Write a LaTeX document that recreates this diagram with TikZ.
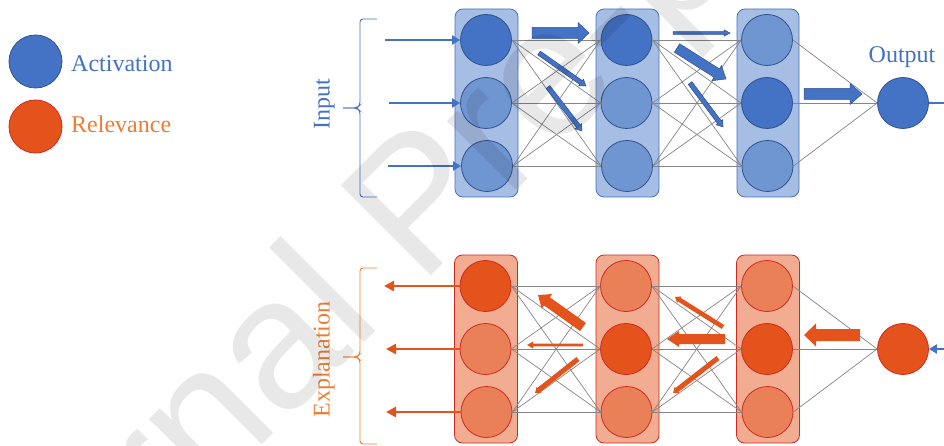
\documentclass[tikz,border=0pt]{standalone}
\usepackage{fontspec}
\setmainfont{Liberation Serif}
\newfontfamily\wmfont{Liberation Sans}
\usetikzlibrary{arrows.meta}

\definecolor{actblue}{HTML}{4472C4}
\definecolor{actlight}{HTML}{7096D2}
\definecolor{actedge}{HTML}{2F528F}
\definecolor{boxblue}{HTML}{A6BDE4}
\definecolor{relred}{HTML}{E4531B}
\definecolor{rellight}{HTML}{EA8058}
\definecolor{reledge}{HTML}{D02A20}
\definecolor{boxred}{HTML}{F2AC91}
\definecolor{reltext}{HTML}{ED7D31}
\definecolor{wire}{HTML}{858585}

% block arrow: style, start, angle, length, half shaft, half head, head length
\newcommand\flowarrow[7]{%
  \begin{scope}[shift={(#2)}, rotate=#3]
    \path[#1] (0,-#5) -- ({#4-#7},-#5) -- ({#4-#7},-#6) -- (#4,0)
      -- ({#4-#7},#6) -- ({#4-#7},#5) -- (0,#5) -- cycle;
  \end{scope}}

\begin{document}
\begin{tikzpicture}[x=1pt,y=-1pt,
  neuron/.style={circle, minimum size=51pt, inner sep=0pt, line width=0.8pt},
  blueon/.style={neuron, fill=actblue, draw=actedge},
  blueoff/.style={neuron, fill=actlight, draw=actedge},
  redon/.style={neuron, fill=relred, draw=reledge},
  redoff/.style={neuron, fill=rellight, draw=reledge},
  layerbox/.style={rectangle, rounded corners=8pt, line width=0.8pt,
    minimum height=188pt, inner sep=0pt},
  bluebox/.style={layerbox, fill=boxblue, draw=actblue},
  redbox/.style={layerbox, fill=boxred, draw=reledge},
  wire/.style={draw=wire, line width=0.7pt},
  feedin/.style={draw=actblue, line width=2pt, -{Triangle[length=8pt,width=9pt]}},
  feedout/.style={draw=relred, line width=2.5pt, -{Triangle[length=10pt,width=10pt]}},
  bracket/.style={line width=0.9pt, rounded corners=3pt},
  blueflow/.style={fill=actblue, draw=actedge, line width=0.5pt},
  redflow/.style={fill=relred},
  label/.style={inner sep=0pt, font=\fontsize{24}{28}\selectfont}
]
\useasboundingbox (0,0) rectangle (944,446);

% ---- legend ----
\node[blueon, minimum size=53pt] (legact) at (35.5,61.5) {};
\node[redon, minimum size=53pt] (legrel) at (35.5,126.5) {};
\node[label, anchor=base west, text=actblue] (legacttext) at (71,72) {Activation};
\node[label, anchor=base west, text=reltext] (legreltext) at (71,133) {Relevance};

% ---- forward pass (activations) ----
\node[bluebox, minimum width=63pt] (tbox1) at (486.5,103) {};
\node[bluebox, minimum width=63pt] (tbox2) at (627.5,103) {};
\node[bluebox, minimum width=62pt] (tbox3) at (768,103) {};

\node[blueon]  (t11) at (486,40) {};
\node[blueoff] (t12) at (486,103) {};
\node[blueoff] (t13) at (487,166) {};
\node[blueon]  (t21) at (626.5,40) {};
\node[blueoff] (t22) at (626.5,103) {};
\node[blueoff] (t23) at (627,166) {};
\node[blueoff] (t31) at (767,40) {};
\node[blueon]  (t32) at (767,103) {};
\node[blueoff] (t33) at (767.5,166) {};
\node[blueon]  (tout) at (903,103) {};

\foreach \i in {1,2,3}{
  \foreach \j in {1,2,3}{
    \draw[wire] (t1\i.east) -- (t2\j.west);
    \draw[wire] (t2\i.east) -- (t3\j.west);
  }
  \draw[wire] (t3\i.east) -- (tout.west);
}

\coordinate (tin1) at (385,40);
\coordinate (tin2) at (389,103);
\coordinate (tin3) at (388,166);
\draw[feedin] (tin1) -- (t11.west);
\draw[feedin] (tin2) -- (t12.west);
\draw[feedin] (tin3) -- (t13.west);
\coordinate (tsink) at (944,103);
\draw[draw=actblue, line width=2pt] (tout.east) -- (tsink);

\flowarrow{blueflow}{532,33}{0}{57}{5.5}{10.5}{11}
\flowarrow{blueflow}{539,53}{-35.1}{57.4}{2.3}{4.2}{6}
\flowarrow{blueflow}{548,87}{-52.3}{55.6}{2.3}{4.2}{6}
\flowarrow{blueflow}{673,33}{0}{57}{1.3}{3.2}{6}
\flowarrow{blueflow}{677,48}{-32.3}{58}{5}{9}{11}
\flowarrow{blueflow}{690,83}{-53.1}{55}{2.3}{4.2}{6}
\flowarrow{blueflow}{804,94}{0}{58}{5.5}{10.5}{12}

\draw[bracket, actblue] (377,19) -- (360,19) -- (360,105) -- (357,108) -- (343,108);
\draw[bracket, actblue] (343,108) -- (357,108) -- (360,111) -- (360,197) -- (377,197);
\node[label, rotate=90, anchor=base, text=actblue] (inputlabel) at (329.5,104) {Input};
\node[label, anchor=base, text=actblue] (outputlabel) at (902,63) {Output};

% ---- backward pass (relevances) ----
\node[redbox, minimum width=63pt] (bbox1) at (486,349) {};
\node[redbox, minimum width=63pt] (bbox2) at (627.5,349) {};
\node[redbox, minimum width=63pt] (bbox3) at (768,349) {};

\node[redon]  (b11) at (485.5,286) {};
\node[redoff] (b12) at (485.5,349) {};
\node[redoff] (b13) at (486.5,412) {};
\node[redoff] (b21) at (626,286) {};
\node[redon]  (b22) at (626,349) {};
\node[redoff] (b23) at (626.5,412) {};
\node[redoff] (b31) at (767,286) {};
\node[redon]  (b32) at (767,349) {};
\node[redoff] (b33) at (767.5,412) {};
\node[redon]  (bout) at (903,349) {};

\foreach \i in {1,2,3}{
  \foreach \j in {1,2,3}{
    \draw[wire] (b1\i.east) -- (b2\j.west);
    \draw[wire] (b2\i.east) -- (b3\j.west);
  }
  \draw[wire] (b3\i.east) -- (bout.west);
}

\coordinate (bex1) at (384,286);
\coordinate (bex2) at (386,349);
\coordinate (bex3) at (386,412);
\draw[feedout] (b11.west) -- (bex1);
\draw[feedout] (b12.west) -- (bex2);
\draw[feedout] (b13.west) -- (bex3);
\coordinate (bsrc) at (944,349);
\draw[feedin] (bsrc) -- (bout.east);

\flowarrow{redflow}{583,327}{144.6}{55.2}{5}{9}{11}
\flowarrow{redflow}{583,345}{180}{56}{1.4}{3.5}{6}
\flowarrow{redflow}{578,359}{-141.7}{54.8}{2.5}{3.8}{5}
\flowarrow{redflow}{723,327}{148}{56.6}{2.3}{3.8}{5}
\flowarrow{redflow}{725,339}{180}{58}{5}{8}{12}
\flowarrow{redflow}{718,358}{-142.1}{57}{2.5}{3.8}{5}
\flowarrow{redflow}{860,335}{180}{56}{6}{11.5}{12}

\draw[bracket, reltext] (377,268) -- (360,268) -- (360,354) -- (357,357) -- (343,357);
\draw[bracket, reltext] (343,357) -- (357,357) -- (360,360) -- (360,444) -- (377,444);
\node[label, rotate=90, anchor=base, text=reltext] (explabel) at (329.5,359.5) {Explanation};

% ---- stamp ----
\begin{scope}
  \clip (0,0) rectangle (944,446);
  \node[inner sep=0pt, rotate=45, anchor=base west, text=black, text opacity=0.09,
    font=\wmfont\fontsize{185}{200}\selectfont] (stamp) at (-45,752) {Journal Pre-proof};
\end{scope}
\end{tikzpicture}
\end{document}
